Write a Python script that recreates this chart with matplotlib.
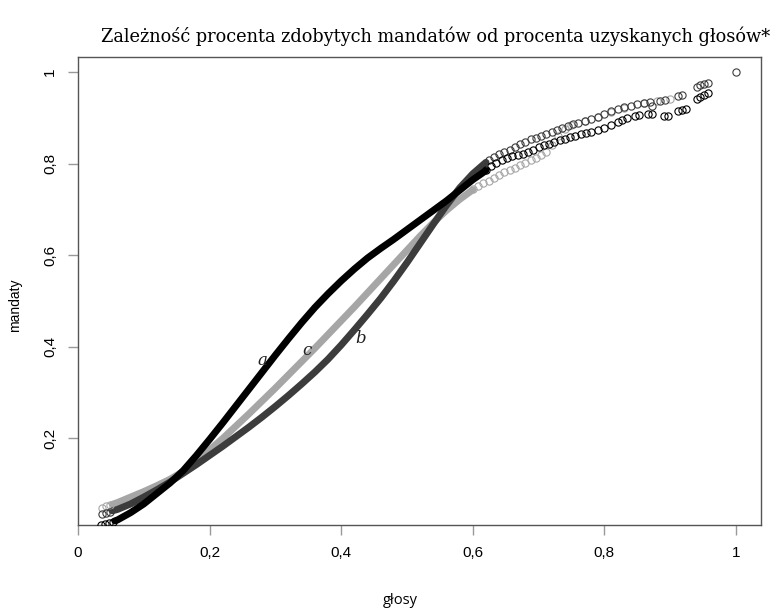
import matplotlib
matplotlib.use("Agg")
import matplotlib.pyplot as plt

plt.rcParams['font.family'] = ['Liberation Sans', 'DejaVu Sans']

# ---- data ----
title = "Zależność procenta zdobytych mandatów od procenta uzyskanych głosów*"
x_label = "głosy"
y_label = "mandaty"
x_ticks = [0, 0.2, 0.4, 0.6, 0.8, 1.0]
x_tick_labels = ["0", "0,2", "0,4", "0,6", "0,8", "1"]
y_ticks = [0.2, 0.4, 0.6, 0.8, 1.0]
y_tick_labels = ["0,2", "0,4", "0,6", "0,8", "1"]

# dense parts of each series (drawn as a thick trace)
a_x = [0.056, 0.06, 0.08, 0.10, 0.12, 0.14, 0.16, 0.18, 0.20, 0.22, 0.24, 0.26, 0.28, 0.30, 0.32, 0.34, 0.36, 0.38, 0.40,
       0.42, 0.44, 0.46, 0.48, 0.50, 0.52, 0.54, 0.56, 0.58, 0.60, 0.62]
a_y = [0.020, 0.022, 0.038, 0.057, 0.080, 0.103, 0.130, 0.163, 0.198, 0.234, 0.271, 0.308, 0.345, 0.382, 0.418, 0.453, 0.486, 0.516, 0.544,
       0.570, 0.594, 0.615, 0.635, 0.656, 0.677, 0.698, 0.719, 0.742, 0.765, 0.785]
b_x = [0.052, 0.06, 0.08, 0.10, 0.12, 0.14, 0.16, 0.18, 0.20, 0.22, 0.24, 0.26, 0.28, 0.30, 0.32, 0.34, 0.36, 0.38, 0.40,
       0.42, 0.44, 0.46, 0.48, 0.50, 0.52, 0.54, 0.56, 0.58, 0.60, 0.62]
b_y = [0.042, 0.045, 0.057, 0.072, 0.088, 0.105, 0.124, 0.143, 0.163, 0.183, 0.204, 0.225, 0.247, 0.270, 0.294, 0.319, 0.345, 0.373, 0.404,
       0.437, 0.471, 0.506, 0.544, 0.584, 0.626, 0.668, 0.709, 0.747, 0.778, 0.803]
c_x = [0.052, 0.06, 0.08, 0.10, 0.12, 0.14, 0.16, 0.18, 0.20, 0.22, 0.24, 0.26, 0.28, 0.30, 0.32, 0.34, 0.36, 0.38, 0.40,
       0.42, 0.44, 0.46, 0.48, 0.50, 0.52, 0.54, 0.56, 0.58, 0.60]
c_y = [0.056, 0.060, 0.072, 0.084, 0.097, 0.111, 0.128, 0.150, 0.175, 0.200, 0.227, 0.254, 0.282, 0.310, 0.339, 0.368, 0.397, 0.427, 0.457,
       0.487, 0.518, 0.549, 0.580, 0.611, 0.642, 0.671, 0.698, 0.722, 0.743]

# sparse points (open circles)
a_px = [0.035, 0.041, 0.047, 0.053,
        0.62, 0.628, 0.636, 0.644, 0.652, 0.66, 0.668, 0.676, 0.684, 0.692, 0.70, 0.708, 0.716, 0.724, 0.732, 0.74,
        0.748, 0.756, 0.764, 0.772, 0.78, 0.79, 0.80, 0.81, 0.82, 0.827, 0.834, 0.846, 0.853, 0.866, 0.872, 0.89,
        0.896, 0.912, 0.918, 0.924, 0.94, 0.946, 0.952, 0.958]
a_py = [0.012, 0.013, 0.015, 0.018,
        0.787, 0.795, 0.802, 0.807, 0.812, 0.816, 0.819, 0.822, 0.826, 0.831, 0.836, 0.840, 0.844, 0.848, 0.852, 0.855,
        0.858, 0.861, 0.864, 0.867, 0.870, 0.874, 0.879, 0.885, 0.892, 0.896, 0.899, 0.905, 0.907, 0.908, 0.908, 0.904,
        0.904, 0.915, 0.917, 0.920, 0.942, 0.946, 0.950, 0.955]
b_px = [0.036, 0.042, 0.048,
        0.625, 0.632, 0.64, 0.648, 0.656, 0.664, 0.672, 0.68, 0.688, 0.696, 0.704, 0.712, 0.72, 0.728, 0.736, 0.744,
        0.752, 0.76, 0.77, 0.78, 0.79, 0.80, 0.81, 0.82, 0.83, 0.84, 0.85, 0.86, 0.87, 0.872, 0.885, 0.892, 0.912,
        0.918, 0.94, 0.946, 0.952, 0.958, 1.0]
b_py = [0.036, 0.038, 0.040,
        0.808, 0.815, 0.821, 0.826, 0.831, 0.836, 0.842, 0.848, 0.853, 0.857, 0.861, 0.865, 0.869, 0.873, 0.878, 0.882,
        0.886, 0.889, 0.893, 0.898, 0.903, 0.908, 0.915, 0.920, 0.924, 0.927, 0.930, 0.933, 0.935, 0.925, 0.938, 0.940, 0.948,
        0.951, 0.968, 0.972, 0.975, 0.977, 1.0]
c_px = [0.037, 0.043, 0.049,
        0.60, 0.608, 0.616, 0.624, 0.632, 0.64, 0.648, 0.656, 0.664, 0.672, 0.68, 0.688, 0.696, 0.704, 0.712,
        0.72, 0.73, 0.74, 0.75, 0.77, 0.79, 0.81, 0.83, 0.86, 0.88, 0.90]
c_py = [0.049, 0.052, 0.054,
        0.745, 0.751, 0.757, 0.763, 0.769, 0.775, 0.781, 0.786, 0.791, 0.797, 0.802, 0.807, 0.812, 0.818, 0.826,
        0.840, 0.860, 0.876, 0.884, 0.893, 0.903, 0.913, 0.922, 0.932, 0.936, 0.942]

labels = ["a", "b", "c"]
label_x = [0.280, 0.429, 0.348]
label_y = [0.371, 0.419, 0.393]

col_a, col_b, col_c = "#000000", "#3c3c3c", "#a6a6a6"

fig = plt.figure(figsize=(7.77, 6.15), dpi=100)
ax = fig.add_axes([78/777, 1-525/615, (761-78)/777, (525-57)/615])

for xs, ys, col in [(c_x, c_y, col_c), (b_x, b_y, col_b), (a_x, a_y, col_a)]:
    ax.plot(xs, ys, color=col, lw=5.0, solid_capstyle="round", solid_joinstyle="round", zorder=3)

for xs, ys, col in [(c_px, c_py, col_c), (b_px, b_py, col_b), (a_px, a_py, col_a)]:
    ax.plot(xs, ys, linestyle="none", marker="o", ms=5.2, mfc="none", mec=col, mew=0.8, zorder=4)

for t, lx, ly in zip(labels, label_x, label_y):
    ax.text(lx, ly, t, fontfamily="DejaVu Serif", fontstyle="italic", fontsize=12,
            ha="center", va="center", color="#222222")

ax.set_xlim(0, 1.038)
ax.set_ylim(0.011, 1.033)
ax.set_xticks(x_ticks)
ax.set_xticklabels(x_tick_labels, fontsize=11)
ax.set_yticks(y_ticks)
ax.set_yticklabels(y_tick_labels, fontsize=11, rotation=90, va="center")
ax.tick_params(axis="both", direction="out", length=7, width=1, color="#999999", pad=8)
for s in ax.spines.values():
    s.set_color("#555555")
    s.set_linewidth(1)

fig.text(436/777, 1-36/615, title, fontfamily="DejaVu Serif", fontsize=12.8, ha="center", va="center")
fig.text(400/777, 1-600/615, x_label, fontfamily="Open Sans", fontsize=10.5, ha="center", va="center")
fig.text(15/777, 1-305/615, y_label, fontsize=10, rotation=90, ha="center", va="center")

fig.savefig("out.png", dpi=100)
